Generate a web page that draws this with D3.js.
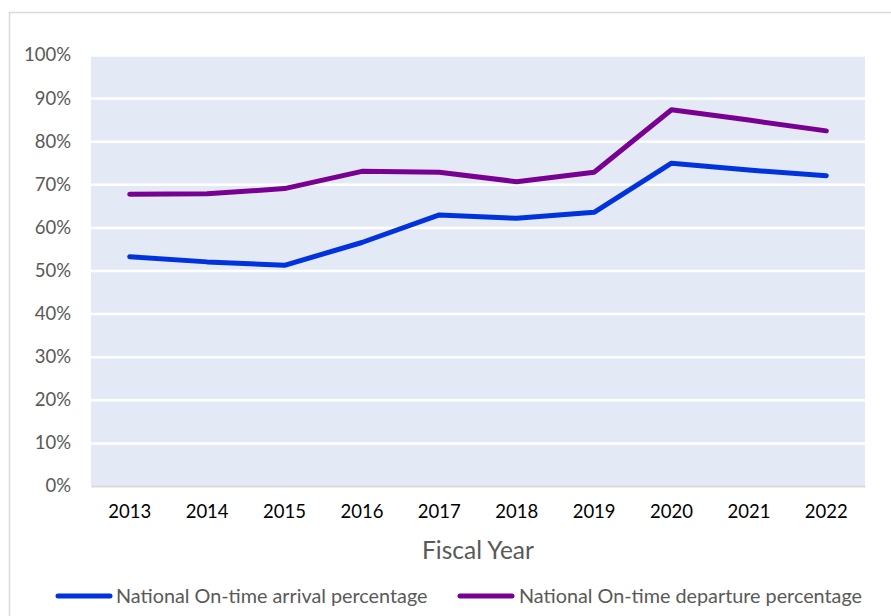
<!DOCTYPE html>
<html>
<head>
<meta charset="utf-8">
<script src="https://cdn.jsdelivr.net/npm/d3@7"></script>
<style>
  html, body { margin: 0; padding: 0; background: #fff; }
  svg { display: block; font-family: Lato, "Open Sans", sans-serif; }
</style>
</head>
<body>
<svg id="chart" width="891" height="616"></svg>
<script>
// Fiscal years on the x axis
const years = ["2013", "2014", "2015", "2016", "2017", "2018", "2019", "2020", "2021", "2022"];
// National on-time percentages (fraction of flights)
const arrival = [0.532, 0.520, 0.512, 0.565, 0.629, 0.621, 0.635, 0.749, 0.733, 0.720];
const departure = [0.677, 0.678, 0.690, 0.730, 0.728, 0.706, 0.728, 0.873, 0.849, 0.824];
const seriesNames = ["National On-time arrival percentage", "National On-time departure percentage"];
const seriesColors = ["#0033DD", "#780092"];
const yTicks = [0, 0.1, 0.2, 0.3, 0.4, 0.5, 0.6, 0.7, 0.8, 0.9, 1.0];

const svg = d3.select("#chart");
const plot = { left: 91, right: 865, top: 55, bottom: 486 };

// outer chart frame
svg.append("rect")
  .attr("x", 9.5).attr("y", 12.5)
  .attr("width", 900).attr("height", 700)
  .attr("fill", "#fff").attr("stroke", "#d9d9d9").attr("stroke-width", 1.5);

const x = d3.scaleBand().domain(years).range([plot.left, plot.right]);
const y = d3.scaleLinear().domain([0, 1]).range([plot.bottom, plot.top]);

// plot background
svg.append("rect")
  .attr("x", plot.left).attr("y", plot.top)
  .attr("width", plot.right - plot.left).attr("height", plot.bottom - plot.top)
  .attr("fill", "#E4EAF5");

// horizontal gridlines + y labels
const yAxis = d3.axisLeft(y).tickValues(yTicks).tickFormat(d3.format(".0%"))
  .tickSize(-(plot.right - plot.left)).tickPadding(20);
const gy = svg.append("g").attr("transform", `translate(${plot.left},0)`).call(yAxis);
gy.select(".domain").remove();
gy.selectAll(".tick line").attr("stroke", "#fff").attr("stroke-width", 2.5)
  .filter(d => d === 0).remove();
gy.selectAll(".tick text").attr("fill", "#595959").attr("font-size", 18.5)
  .attr("font-family", "Lato, sans-serif");

// x axis
const xAxis = d3.axisBottom(x).tickSize(0).tickPadding(19);
const gx = svg.append("g").attr("transform", `translate(0,${plot.bottom})`).call(xAxis);
gx.select(".domain").attr("stroke", "#d9d9d9").attr("stroke-width", 2);
gx.selectAll(".tick text").attr("fill", "#000").attr("font-size", 18.5)
  .attr("font-family", "Lato, sans-serif");

// axis title
svg.append("text")
  .attr("x", (plot.left + plot.right) / 2).attr("y", 559)
  .attr("text-anchor", "middle").attr("fill", "#595959").attr("font-size", 24.5)
  .text("Fiscal Year");

// lines
const line = d3.line()
  .x((d, i) => x(years[i]) + x.bandwidth() / 2)
  .y(d => y(d));

[arrival, departure].forEach((vals, k) => {
  svg.append("path")
    .datum(vals)
    .attr("d", line)
    .attr("fill", "none")
    .attr("stroke", seriesColors[k])
    .attr("stroke-width", 5)
    .attr("stroke-linecap", "round")
    .attr("stroke-linejoin", "round");
});

// legend
const legendItems = [
  { x0: 58, x1: 110, tx: 116 },
  { x0: 460, x1: 512, tx: 519 }
];
legendItems.forEach((it, k) => {
  svg.append("line")
    .attr("x1", it.x0).attr("x2", it.x1).attr("y1", 596).attr("y2", 596)
    .attr("stroke", seriesColors[k]).attr("stroke-width", 5).attr("stroke-linecap", "round");
  svg.append("text")
    .attr("x", it.tx).attr("y", 596).attr("dy", "0.35em")
    .attr("fill", "#595959").attr("font-size", 19.8)
    .text(seriesNames[k]);
});
</script>
</body>
</html>
